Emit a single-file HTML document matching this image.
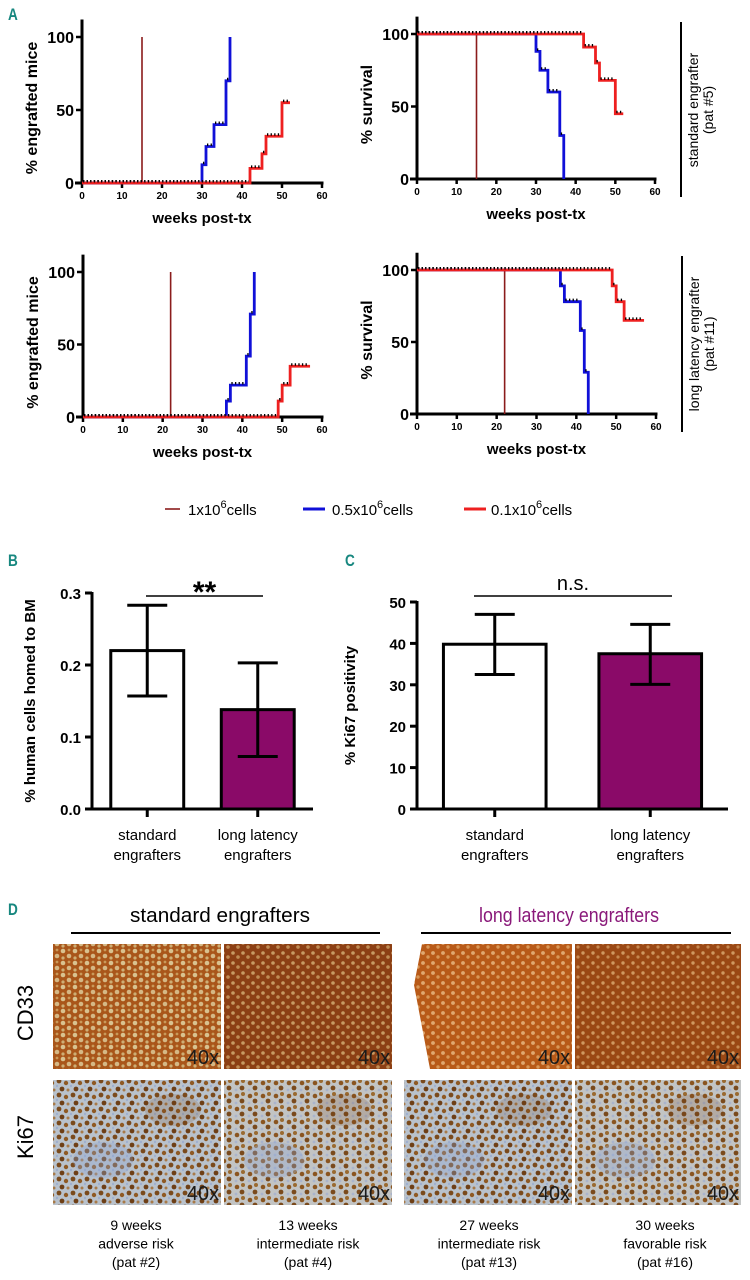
<!DOCTYPE html>
<html><head><meta charset="utf-8">
<style>
html,body{margin:0;padding:0;background:#fff;}
svg{display:block;font-family:"Liberation Sans",sans-serif;}
</style></head>
<body>
<svg id="fig" width="750" height="1280" viewBox="0 0 750 1280">
<defs>
<pattern id="cdA" width="12" height="12" patternUnits="userSpaceOnUse">
<rect width="12" height="12" fill="#a9561a"/><circle cx="3" cy="3" r="2.3" fill="#d9c28f"/><circle cx="9" cy="8" r="2.3" fill="#d5b885"/><circle cx="9" cy="2" r="1.4" fill="#c99a5a"/><circle cx="3" cy="10" r="1.6" fill="#ceae74"/></pattern>
<pattern id="cdB" width="10" height="10" patternUnits="userSpaceOnUse">
<rect width="10" height="10" fill="#8c3f14"/><circle cx="3" cy="3" r="1.8" fill="#c79a63"/><circle cx="8" cy="7" r="1.8" fill="#bf8c55"/></pattern>
<pattern id="cdC" width="10" height="10" patternUnits="userSpaceOnUse">
<rect width="10" height="10" fill="#b85a18"/><circle cx="3" cy="3" r="1.9" fill="#e0a870"/><circle cx="8" cy="7" r="1.7" fill="#d89858"/></pattern>
<pattern id="cdD" width="10" height="10" patternUnits="userSpaceOnUse">
<rect width="10" height="10" fill="#9a4814"/><circle cx="3" cy="3" r="1.7" fill="#cf9860"/><circle cx="8" cy="7" r="1.6" fill="#c58850"/></pattern>
<pattern id="ki" width="14" height="14" patternUnits="userSpaceOnUse">
<rect width="14" height="14" fill="#b9c2cc"/><circle cx="3" cy="3" r="2.4" fill="#7a4a1c"/><circle cx="10" cy="5" r="2.2" fill="#8f5a24"/><circle cx="6" cy="11" r="2.4" fill="#6e3f16"/><circle cx="12" cy="12" r="1.5" fill="#a87a48"/><circle cx="1" cy="8" r="1.2" fill="#9fb0cf"/></pattern>
<pattern id="ki2" width="13" height="13" patternUnits="userSpaceOnUse">
<rect width="13" height="13" fill="#c2c4c4"/><circle cx="3" cy="4" r="2.3" fill="#8a5520"/><circle cx="9" cy="2" r="2" fill="#9a6a30"/><circle cx="8" cy="9" r="2.4" fill="#7a4a1c"/><circle cx="2" cy="11" r="1.4" fill="#aab4cc"/></pattern>
</defs>
<g id="panels"></g>
</svg>
<script>
// ===== Panel A data =====
const xTicks = [0,10,20,30,40,50,60];
const yTicksA = [0,50,100];
// pat #5 engraftment
const e5_dark_t=[0,15], e5_dark_v=[0,100], e5_dark_end=15;
const e5_blue_t=[0,30,31,33,36,37], e5_blue_v=[0,12.5,25,40,70,100], e5_blue_end=37;
const e5_red_t=[0,42,45,46,50], e5_red_v=[0,10,20,32,55], e5_red_end=52;
// pat #5 survival
const s5_dark_t=[0,15], s5_dark_v=[100,0], s5_dark_end=15;
const s5_blue_t=[0,30,31,33,36,37], s5_blue_v=[100,88,75,60,30,0], s5_blue_end=37;
const s5_red_t=[0,42,45,46,50], s5_red_v=[100,91,80,68,45], s5_red_end=52;
// pat #11 engraftment
const e11_dark_t=[0,22], e11_dark_v=[0,100], e11_dark_end=22;
const e11_blue_t=[0,36,37,41,42,43], e11_blue_v=[0,11,22,42,71,100], e11_blue_end=43;
const e11_red_t=[0,49,50,52], e11_red_v=[0,11,22,35], e11_red_end=57;
// pat #11 survival
const s11_dark_t=[0,22], s11_dark_v=[100,0], s11_dark_end=22;
const s11_blue_t=[0,36,37,41,42,43], s11_blue_v=[100,89,78,58,29,0], s11_blue_end=43;
const s11_red_t=[0,49,50,52], s11_red_v=[100,89,78,65], s11_red_end=57;
// ===== Panel B/C data =====
const barCats=["standard|engrafters","long latency|engrafters"];
const homedVals=[0.22,0.138], homedLo=[0.157,0.073], homedHi=[0.283,0.203];
const homedTicks=["0.0","0.1","0.2","0.3"];
const ki67Vals=[39.8,37.5], ki67Lo=[32.5,30.1], ki67Hi=[47,44.6];
const ki67Ticks=[0,10,20,30,40,50];

const NS="http://www.w3.org/2000/svg";
const root=document.getElementById('panels');
function el(tag,attrs,parent,text){const e=document.createElementNS(NS,tag);for(const k in attrs)e.setAttribute(k,attrs[k]);if(text!==undefined)e.textContent=text;(parent||root).appendChild(e);return e;}

[["A",8,20],["B",8,566],["C",345,566],["D",8,915]].forEach(p=>{
  const t=el('text',{x:p[1],y:p[2],'font-size':17,'font-weight':'bold',fill:'#17877f',transform:`scale(0.8,1) translate(${p[1]*0.25},0)`},root,p[0]);
  
  
});

function kmChart(name,L,R,T,B,ytitle,series){
  const g=el('g',{});
  
  
  const X=t=>L+(R-L)*t/60, Y=v=>B-(B-T)*v/100;
  const ya=el('line',{x1:L,y1:Y(112),x2:L,y2:B+1.5,stroke:'#000','stroke-width':3},g);
  
  const xa=el('line',{x1:L-7,y1:B,x2:R+1.5,y2:B,stroke:'#000','stroke-width':3},g);
  
  xTicks.forEach(t=>{
    el('line',{x1:X(t),y1:B,x2:X(t),y2:B+5,stroke:'#000','stroke-width':2.5},g);
    const tl=el('text',{x:X(t),y:B+16,'font-size':10,'font-weight':'bold','text-anchor':'middle'},g,t);
    
  });
  yTicksA.forEach(v=>{
    el('line',{x1:L-6,y1:Y(v),x2:L,y2:Y(v),stroke:'#000','stroke-width':2.5},g);
    const tl=el('text',{x:L-8,y:Y(v)+6,'font-size':16,'font-weight':'bold','text-anchor':'end'},g,v);
    
  });
  const xt=el('text',{x:(L+R)/2,y:B+40,'font-size':15,'font-weight':'bold','text-anchor':'middle'},g,'weeks post-tx');
  
  const cy=(T+B)/2-2;
  const yt=el('text',{x:0,y:0,'font-size':16,'font-weight':'bold','text-anchor':'middle',transform:`translate(${L-45},${cy}) rotate(-90)`},g,ytitle);
  
  series.forEach(s=>{
    let d=`M${X(s.t[0])},${Y(s.v[0])}`;
    for(let i=1;i<s.t.length;i++){d+=` H${X(s.t[i])} V${Y(s.v[i])}`;}
    d+=` H${X(s.end)}`;
    const p=el('path',{d:d,fill:'none',stroke:s.c,'stroke-width':s.w},g);
    
    for(let i=0;i<s.t.length;i++){
      const a=s.t[i], b=(i+1<s.t.length)?s.t[i+1]:s.end;
      if(b-a<=0) continue;
      const yy=Y(s.v[i])-1.8;
      const c=el('line',{x1:X(a)+1,y1:yy,x2:X(b)-1,y2:yy,stroke:'#000','stroke-width':2.5,'stroke-dasharray':'1.3 2.3'},g);
      
    }
  });
}
const DR='#8b1c1c', BL='#1010d8', RD='#ee2020';
function ser(pfx,t1,v1,e1,t2,v2,e2,t3,v3,e3){return[
 {t:t1,v:v1,end:e1,c:DR,w:1.6,n:pfx+'-1e6-line'},
 {t:t2,v:v2,end:e2,c:BL,w:2.8,n:pfx+'-0.5e6-line'},
 {t:t3,v:v3,end:e3,c:RD,w:2.8,n:pfx+'-0.1e6-line'}];}
kmChart('engraftment-chart-pat5',82,322,37,183,'% engrafted mice',ser('eng5',e5_dark_t,e5_dark_v,e5_dark_end,e5_blue_t,e5_blue_v,e5_blue_end,e5_red_t,e5_red_v,e5_red_end));
kmChart('survival-chart-pat5',417,655,34,179,'% survival',ser('surv5',s5_dark_t,s5_dark_v,s5_dark_end,s5_blue_t,s5_blue_v,s5_blue_end,s5_red_t,s5_red_v,s5_red_end));
kmChart('engraftment-chart-pat11',83,322,272,417,'% engrafted mice',ser('eng11',e11_dark_t,e11_dark_v,e11_dark_end,e11_blue_t,e11_blue_v,e11_blue_end,e11_red_t,e11_red_v,e11_red_end));
kmChart('survival-chart-pat11',417,656,270,414,'% survival',ser('surv11',s11_dark_t,s11_dark_v,s11_dark_end,s11_blue_t,s11_blue_v,s11_blue_end,s11_red_t,s11_red_v,s11_red_end));

[[681,22,197,'standard engrafter','(pat #5)',110],[682,256,432,'long latency engrafter','(pat #11)',344]].forEach((b,i)=>{
  const ln=el('line',{x1:b[0],y1:b[1],x2:b[0],y2:b[2],stroke:'#000','stroke-width':2});
  
  const t1=el('text',{x:0,y:0,'font-size':14,'text-anchor':'middle',transform:`translate(${b[0]+17},${b[5]}) rotate(-90)`},root,b[3]);
  
  const t2=el('text',{x:0,y:0,'font-size':14,'text-anchor':'middle',transform:`translate(${b[0]+32},${b[5]}) rotate(-90)`},root,b[4]);
  
});

[[165,180,188,DR,1.6],[303,325,332,BL,3],[464,486,491,RD,3]].forEach((l,i)=>{
  const pre=['1x10','0.5x10','0.1x10'][i];
  const g=el('g',{});
  
  el('line',{x1:l[0],y1:509,x2:l[1],y2:509,stroke:l[3],'stroke-width':l[4]},g);
  const t=el('text',{x:l[2],y:515,'font-size':15},g);
  el('tspan',{},t,pre);
  el('tspan',{dy:-7,'font-size':11},t,'6');
  el('tspan',{dy:7},t,'cells');
});

function barChart(name,L,R,T,B,ymax,vals,lo,hi,ticks,tickLabels,ytitle,ytx,sig,sigX1,sigX2,sigFont,sigBold){
  const g=el('g',{});
  
  const Y=v=>B-(B-T)*v/ymax;
  const n=vals.length, slot=(R-L)/n, bw=slot*0.66;
  vals.forEach((v,i)=>{
    const cx=L+slot*(i+0.5);
    const r=el('rect',{x:cx-bw/2,y:Y(v),width:bw,height:B-Y(v),fill:i?'#8a0a68':'#fff',stroke:'#000','stroke-width':3},g);
    
    const e=el('path',{d:`M${cx},${Y(lo[i])}V${Y(hi[i])} M${cx-20},${Y(hi[i])}H${cx+20} M${cx-20},${Y(lo[i])}H${cx+20}`,stroke:'#000','stroke-width':3,fill:'none'},g);
    
    el('line',{x1:cx,y1:B,x2:cx,y2:B+8,stroke:'#000','stroke-width':3},g);
    barCats[i].split('|').forEach((s,k)=>{
      const t=el('text',{x:cx,y:B+31+k*20,'font-size':15,'text-anchor':'middle'},g,s);
      
    });
  });
  const ya=el('line',{x1:L,y1:T-1,x2:L,y2:B+1.5,stroke:'#000','stroke-width':3},g);
  
  const xa=el('line',{x1:L-7,y1:B,x2:R,y2:B,stroke:'#000','stroke-width':3},g);
  
  ticks.forEach((v,i)=>{
    el('line',{x1:L-7,y1:Y(v),x2:L,y2:Y(v),stroke:'#000','stroke-width':3},g);
    const t=el('text',{x:L-11,y:Y(v)+6,'font-size':15,'font-weight':'bold','text-anchor':'end'},g,tickLabels[i]);
    
  });
  const yt=el('text',{x:0,y:0,'font-size':15,'font-weight':'bold','text-anchor':'middle',transform:`translate(${ytx},${(T+B)/2}) rotate(-90)`},g,ytitle);
  
  const sl=el('line',{x1:sigX1,y1:596,x2:sigX2,y2:596,stroke:'#000','stroke-width':1.5},g);
  
  const st=el('text',{x:(sigX1+sigX2)/2,y:sigBold?602:590,'font-size':sigFont,'font-weight':sigBold?'bold':'normal','text-anchor':'middle'},g,sig);
  
}
barChart('homing-bar-chart',92,313,593,809,0.3,homedVals,homedLo,homedHi,[0,0.1,0.2,0.3],homedTicks,'% human cells homed to BM',35,'**',146,263,30,true);
barChart('ki67-bar-chart',417,728,602,809,50,ki67Vals,ki67Lo,ki67Hi,ki67Ticks,ki67Ticks.map(String),'% Ki67 positivity',355,'n.s.',474,672,20,false);

const hdrs=[['standard engrafters',220,'#000',71,380],['long latency engrafters',569,'#8a1a7a',421,731]];
hdrs.forEach(h=>{
  const t=el('text',{x:h[1],y:922,'font-size':20,'text-anchor':'middle',fill:h[2],textLength:180,lengthAdjust:'spacingAndGlyphs'},root,h[0]);
  
  const l=el('line',{x1:h[3],y1:933,x2:h[4],y2:933,stroke:'#000','stroke-width':2});
  
});
[['CD33',1013],['Ki67',1137]].forEach(r=>{
  const t=el('text',{x:0,y:0,'font-size':22,'text-anchor':'middle',transform:`translate(33,${r[1]}) rotate(-90)`},root,r[0]);
  
});
const imgX=[53,224,404,575], imgW=[168,168,168,166];
const cdFills=['url(#cdA)','url(#cdB)','url(#cdC)','url(#cdD)'];
const kiFills=['url(#ki)','url(#ki2)','url(#ki)','url(#ki2)'];
imgX.forEach((x,i)=>{
  const a=el('rect',{x:x,y:944,width:imgW[i],height:125,fill:cdFills[i]});
  
  if(i===2){el('path',{d:`M404,944 H422 L414,985 L430,1069 H404 Z`,fill:'#fff'});}
  const b=el('rect',{x:x,y:1080,width:imgW[i],height:125,fill:kiFills[i]});
  
  // blotchy tissue variation
  el('ellipse',{cx:x+50,cy:1160,rx:30,ry:18,fill:'#8fa6d0',opacity:0.35});
  el('ellipse',{cx:x+120,cy:1110,rx:28,ry:16,fill:'#6e3f16',opacity:0.18});
  [1064,1200].forEach(yy=>{
    const t=el('text',{x:x+imgW[i]-2,y:yy,'font-size':20,'text-anchor':'end',fill:'#1a1a1a',textLength:32,lengthAdjust:'spacingAndGlyphs'},root,'40x');
    
  });
});
const caps=[['9 weeks','adverse risk','(pat #2)',136],['13 weeks','intermediate risk','(pat #4)',308],['27 weeks','intermediate risk','(pat #13)',489],['30 weeks','favorable risk','(pat #16)',665]];
caps.forEach(c=>{
  for(let k=0;k<3;k++){
    const t=el('text',{x:c[3],y:1230+k*18.5,'font-size':14,'text-anchor':'middle'},root,c[k]);
    
  }
});
</script>
</body></html>
